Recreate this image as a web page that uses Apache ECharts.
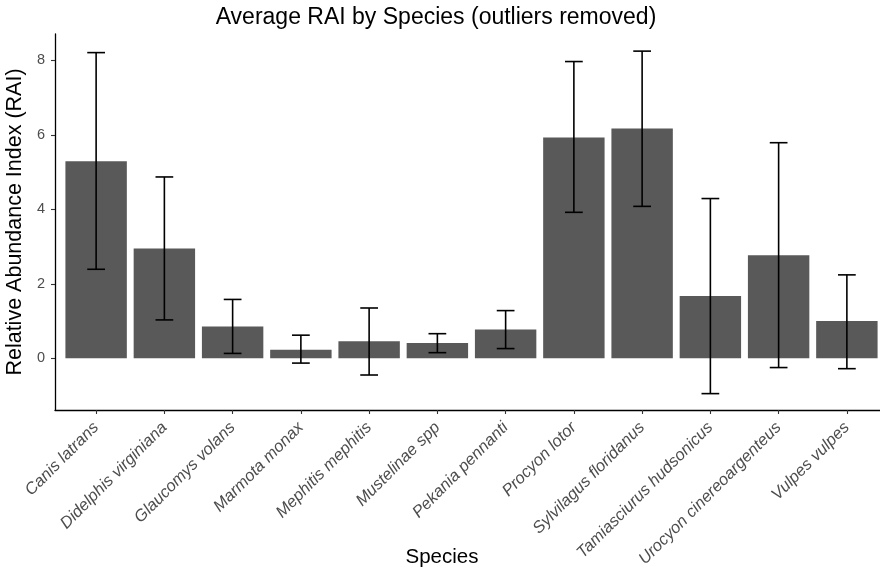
<!DOCTYPE html>
<html>
<head>
<meta charset="utf-8">
<script src="https://cdn.jsdelivr.net/npm/echarts@6/dist/echarts.min.js"></script>
<style>html,body{margin:0;padding:0;background:#fff}#c{width:880px;height:573px}</style>
</head>
<body>
<div id="c"></div>
<script>
const species = ["Canis latrans","Didelphis virginiana","Glaucomys volans","Marmota monax","Mephitis mephitis","Mustelinae spp","Pekania pennanti","Procyon lotor","Sylvilagus floridanus","Tamiasciurus hudsonicus","Urocyon cinereoargenteus","Vulpes vulpes"];
const meanRAI = [5.29, 2.95, 0.85, 0.23, 0.46, 0.41, 0.77, 5.93, 6.17, 1.67, 2.77, 1.00];
const errLow  = [2.39, 1.03, 0.13, -0.13, -0.45, 0.15, 0.26, 3.92, 4.08, -0.95, -0.25, -0.28];
const errHigh = [8.21, 4.87, 1.58, 0.62, 1.35, 0.66, 1.28, 7.97, 8.25, 4.29, 5.79, 2.24];
const yTicks = [0, 2, 4, 6, 8];

const FONT = "Liberation Sans";
const chart = echarts.init(document.getElementById('c'), null, {renderer: 'canvas'});
const yMin = -1.39, yMax = 8.71;
const option = {
  animation: false,
  backgroundColor: '#fff',
  textStyle: {fontFamily: FONT},
  title: [
    {text: 'Average RAI by Species (outliers removed)', left: 431, top: 1, textAlign: 'center',
     textStyle: {fontFamily: FONT, fontSize: 23, fontWeight: 'normal', color: '#000'}},
    {text: 'Species', left: 437, top: 542, textAlign: 'center',
     textStyle: {fontFamily: FONT, fontSize: 20.5, fontWeight: 'normal', color: '#000'}}
  ],
  grid: [
    {left: 55, top: 34, width: 825, height: 376, outerBoundsMode: 'none', containLabel: false},
    {left: 62, top: 34, width: 819, height: 376, outerBoundsMode: 'none', containLabel: false}
  ],
  xAxis: [
    {gridIndex: 0, type: 'value', min: 0, max: 1,
     axisLine: {show: true, onZero: false, lineStyle: {color: '#000', width: 1.3}},
     axisTick: {show: false}, axisLabel: {show: false}, splitLine: {show: false}},
    {gridIndex: 1, type: 'category', data: species, boundaryGap: true,
     axisLine: {show: false, onZero: false},
     axisTick: {show: true, alignWithLabel: true, length: 4, lineStyle: {color: '#333', width: 1.1}},
     axisLabel: {rotate: 45, interval: 0, margin: 15, fontStyle: 'italic', fontSize: 16.5, color: '#4d4d4d', fontFamily: FONT},
     splitLine: {show: false}}
  ],
  yAxis: [
    {gridIndex: 0, type: 'value', min: yMin, max: yMax,
     axisLine: {show: true, onZero: false, lineStyle: {color: '#000', width: 1.3}},
     axisTick: {show: true, length: 4, customValues: yTicks, lineStyle: {color: '#333', width: 1.1}},
     axisLabel: {customValues: yTicks, fontSize: 14.5, color: '#4d4d4d', margin: 10, fontFamily: FONT},
     splitLine: {show: false},
     name: 'Relative Abundance Index (RAI)', nameLocation: 'middle', nameGap: 26, nameRotate: 90,
     nameTextStyle: {fontSize: 21.5, color: '#000', fontFamily: FONT}},
    {gridIndex: 1, type: 'value', min: yMin, max: yMax, show: false, splitLine: {show: false}}
  ],
  series: [
    {type: 'bar', xAxisIndex: 1, yAxisIndex: 1, data: meanRAI, barWidth: '90%',
     itemStyle: {color: '#595959'}, silent: true},
    {type: 'custom', xAxisIndex: 1, yAxisIndex: 1,
     data: species.map((s, i) => [i, errLow[i], errHigh[i]]),
     encode: {x: 0, y: [1, 2]},
     renderItem: function (params, api) {
       const i = api.value(0);
       const lo = api.coord([i, api.value(1)]);
       const hi = api.coord([i, api.value(2)]);
       const hw = api.size([1, 0])[0] * 0.13;
       const style = {stroke: '#000', lineWidth: 1.6, fill: null};
       return {type: 'group', children: [
         {type: 'line', shape: {x1: lo[0], y1: lo[1], x2: hi[0], y2: hi[1]}, style: style},
         {type: 'line', shape: {x1: hi[0] - hw, y1: hi[1], x2: hi[0] + hw, y2: hi[1]}, style: style},
         {type: 'line', shape: {x1: lo[0] - hw, y1: lo[1], x2: lo[0] + hw, y2: lo[1]}, style: style}
       ]};
     }, z: 5}
  ]
};
chart.setOption(option);
</script>
</body>
</html>
